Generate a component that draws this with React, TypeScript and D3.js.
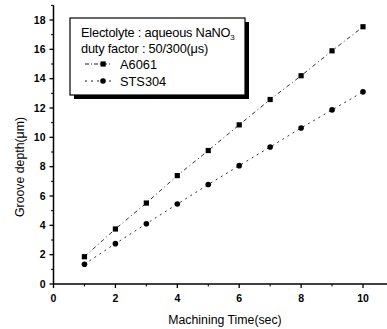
import React from "react";
import * as d3 from "d3";

const times = [1, 2, 3, 4, 5, 6, 7, 8, 9, 10];
const a6061 = [1.86, 3.75, 5.52, 7.39, 9.1, 10.85, 12.58, 14.2, 15.9, 17.54];
const sts304 = [1.35, 2.75, 4.11, 5.45, 6.78, 8.07, 9.34, 10.64, 11.87, 13.1];
const xTicks = [0, 2, 4, 6, 8, 10];
const yTicks = [0, 2, 4, 6, 8, 10, 12, 14, 16, 18];
const xMinor = [1, 3, 5, 7, 9];
const yMinor = [1, 3, 5, 7, 9, 11, 13, 15, 17];

export default function App() {
  const W = 387, H = 329;
  const x = d3.scaleLinear().domain([0, 10]).range([53.5, 363]);
  const y = d3.scaleLinear().domain([0, 18]).range([284, 20]);
  const xMax = 387;
  const yTop = y(19);
  const font = "'Liberation Sans', Arial, sans-serif";
  const lineA = d3.line<number>().x((_, i) => x(times[i])).y((d) => y(d));
  const pathA = lineA(a6061) || "";
  const pathS = lineA(sts304) || "";

  return (
    <div style={{ position: "absolute", left: 0, top: 0 }}>
      <svg width={W} height={H} style={{ display: "block", background: "#fff" }}>
        {/* axes */}
        <line x1={x(0)} x2={xMax} y1={y(0)} y2={y(0)} stroke="#000" strokeWidth={1.5} />
        <line x1={x(0)} x2={x(0)} y1={y(0)} y2={yTop} stroke="#000" strokeWidth={1.5} />
        {xTicks.map((t) => (
          <g key={"xt" + t}>
            <line x1={x(t)} x2={x(t)} y1={y(0)} y2={y(0) + 4} stroke="#000" strokeWidth={1.3} />
            <text x={x(t)} y={y(0) + 18} textAnchor="middle" fontFamily={font} fontSize={10.5} fontWeight="bold">{t}</text>
          </g>
        ))}
        {xMinor.map((t) => (
          <line key={"xm" + t} x1={x(t)} x2={x(t)} y1={y(0)} y2={y(0) + 2.5} stroke="#000" strokeWidth={1} />
        ))}
        {yTicks.map((t) => (
          <g key={"yt" + t}>
            <line x1={x(0) - 4} x2={x(0)} y1={y(t)} y2={y(t)} stroke="#000" strokeWidth={1.3} />
            <text x={x(0) - 8} y={y(t) + 3.5} textAnchor="end" fontFamily={font} fontSize={10.5} fontWeight="bold">{t}</text>
          </g>
        ))}
        {yMinor.map((t) => (
          <line key={"ym" + t} x1={x(0) - 2.5} x2={x(0)} y1={y(t)} y2={y(t)} stroke="#000" strokeWidth={1} />
        ))}
        <line x1={x(0) - 2.5} x2={x(0)} y1={yTop} y2={yTop} stroke="#000" strokeWidth={1} />

        {/* series */}
        <path d={pathA} fill="none" stroke="#000" strokeWidth={0.8} strokeDasharray="4,3,1,3" />
        <path d={pathS} fill="none" stroke="#000" strokeWidth={0.8} strokeDasharray="2,4" />
        {a6061.map((v, i) => (
          <rect key={"a" + i} x={x(times[i]) - 2.6} y={y(v) - 2.6} width={5.2} height={5.2} fill="#000" />
        ))}
        {sts304.map((v, i) => (
          <circle key={"s" + i} cx={x(times[i])} cy={y(v)} r={2.8} fill="#000" />
        ))}

        {/* legend */}
        <rect x={74} y={22} width={175} height={77} fill="#000" />
        <rect x={70} y={18} width={175} height={77} fill="#fff" stroke="#000" strokeWidth={1.2} />
        <text x={81} y={36.5} fontFamily={font} fontSize={12.8} letterSpacing={-0.2}>
          Electolyte : aqueous NaNO<tspan fontSize={8} dy={3}>3</tspan>
        </text>
        <text x={81} y={52.5} fontFamily={font} fontSize={12.8} letterSpacing={-0.2}>duty factor : 50/300(μs)</text>
        <line x1={85} x2={112} y1={64} y2={64} stroke="#000" strokeWidth={0.9} strokeDasharray="4,2,1,2" />
        <rect x={100.5} y={61.4} width={5.2} height={5.2} fill="#000" />
        <text x={120} y={68.5} fontFamily={font} fontSize={12.8}>A6061</text>
        <line x1={85} x2={112} y1={81} y2={81} stroke="#000" strokeWidth={0.9} strokeDasharray="2,4" />
        <circle cx={103} cy={81} r={2.8} fill="#000" />
        <text x={120} y={85.5} fontFamily={font} fontSize={12.8}>STS304</text>

        {/* axis titles */}
        <text x={225} y={324} textAnchor="middle" fontFamily={font} fontSize={12.3}>Machining Time(sec)</text>
        <text transform={`translate(24,${167}) rotate(-90)`} textAnchor="middle" fontFamily={font} fontSize={12.3}>Groove depth(μm)</text>
      </svg>
    </div>
  );
}
